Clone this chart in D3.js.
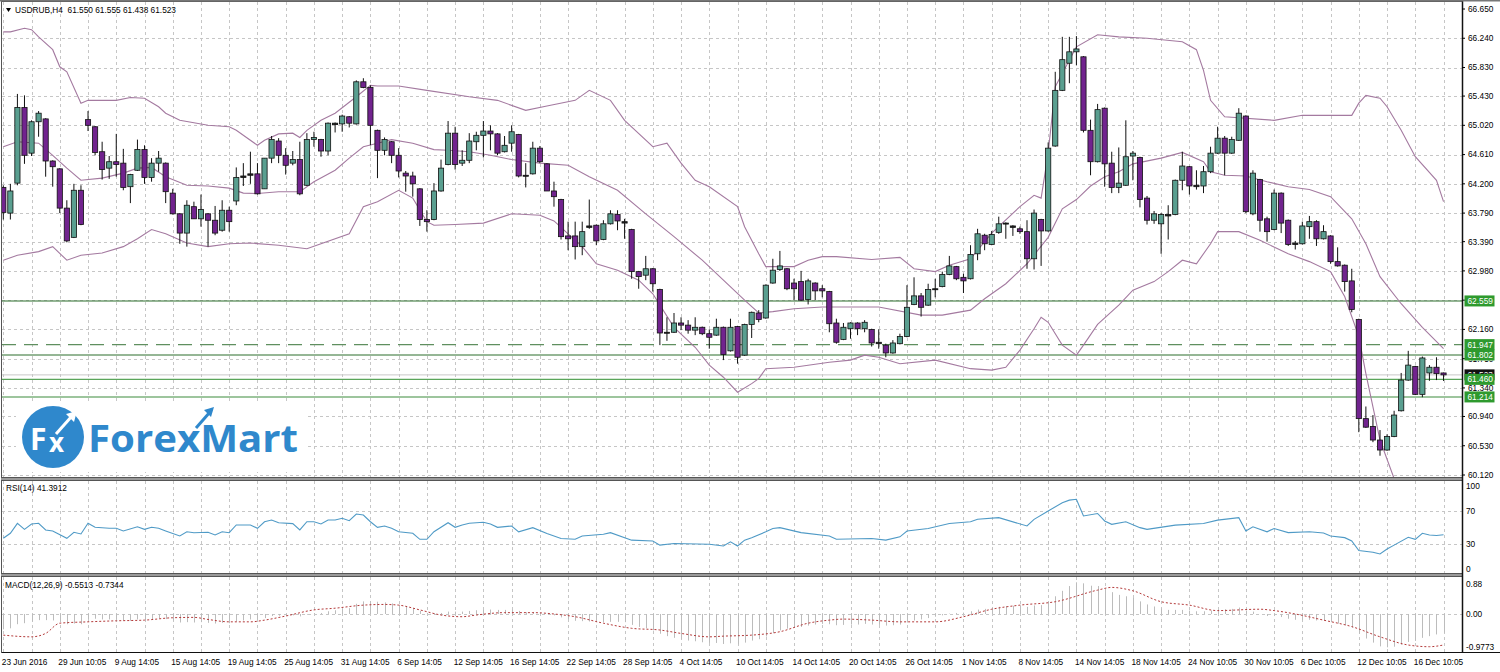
<!DOCTYPE html>
<html><head><meta charset="utf-8">
<script src="https://cdn.jsdelivr.net/npm/d3@7"></script>
<style>body{margin:0;background:#fff;} svg{display:block;font-family:"Liberation Sans",Arial,sans-serif;}</style>
</head><body><svg id="c" width="1500" height="672"></svg>
<script>
// ---------- DATA ----------
const opens=[64.15,63.79,64.21,65.27,64.63,65.07,65.11,64.52,64.41,63.86,
63.45,64.11,65.10,65.00,64.65,64.42,64.51,64.49,64.16,64.39,
64.68,64.29,64.49,64.49,64.07,63.78,63.51,63.88,63.71,63.78,
63.69,63.55,63.83,63.96,64.29,64.32,64.34,64.13,64.56,64.80,
64.60,64.49,64.54,64.18,64.82,64.82,64.66,65.05,65.04,65.14,
65.04,65.63,65.55,64.95,64.67,64.79,64.60,64.35,64.31,64.13,
63.70,63.70,64.10,64.47,64.91,64.49,64.53,64.79,64.88,64.94,
64.90,64.65,64.77,64.89,64.32,64.34,64.70,64.48,64.10,63.98,
63.47,63.47,63.32,63.59,63.62,63.42,63.64,63.77,63.67,63.56,
62.97,62.92,63.01,62.72,62.12,62.12,62.25,62.22,62.15,62.19,
62.10,62.08,62.19,61.86,62.20,61.80,62.23,62.39,62.32,62.81,
63.00,63.01,62.81,62.83,62.58,62.81,62.73,62.69,62.25,62.02,
62.17,62.25,62.17,62.16,61.98,61.94,61.83,61.96,62.06,62.51,
62.63,62.50,62.72,62.76,62.93,63.04,62.89,62.87,63.22,63.48,
63.35,63.52,63.64,63.61,63.57,63.53,63.15,63.70,63.54,64.73,
65.51,65.89,66.05,65.98,64.95,64.51,65.26,64.49,64.15,64.18,
64.59,64.57,64.00,63.69,63.64,63.75,63.77,64.25,64.44,64.18,
64.17,64.37,64.63,64.84,64.63,64.81,65.15,63.78,64.26,63.71,
63.56,64.07,63.69,63.37,63.36,63.60,63.67,63.43,63.47,63.11,
63.06,62.84,62.30,60.91,60.80,60.61,60.47,60.66,61.02,61.45,
61.64,61.25,61.55,61.63,61.550];
const highs=[64.18,64.20,65.46,65.44,65.09,65.22,65.12,64.53,64.42,63.97,
64.20,64.18,65.22,65.01,64.79,64.59,64.90,64.69,64.34,64.82,
64.74,64.56,64.66,64.50,64.13,63.79,63.97,63.95,64.05,63.79,
63.89,63.97,63.88,64.43,64.49,64.65,64.49,64.56,64.87,64.84,
64.70,64.66,64.79,64.91,64.93,64.83,65.06,65.06,65.17,65.15,
65.65,65.68,65.58,64.96,64.85,64.80,64.70,64.38,64.37,64.14,
63.83,64.21,64.54,65.08,65.00,64.67,64.91,64.93,65.08,65.02,
64.91,64.87,65.02,64.90,64.49,64.79,64.73,64.49,64.23,63.99,
63.67,63.67,63.67,63.98,63.63,63.69,63.83,63.83,63.71,63.57,
62.98,63.19,63.02,62.73,62.33,62.39,62.33,62.29,62.33,62.20,
62.16,62.31,62.20,62.31,62.21,62.24,62.41,62.43,62.79,63.15,
63.26,63.02,62.87,62.98,62.87,62.82,62.78,62.70,62.31,62.25,
62.26,62.26,62.29,62.17,62.16,61.96,62.01,62.10,62.78,62.89,
62.67,62.80,62.87,62.97,63.19,63.05,62.94,63.34,63.57,63.50,
63.54,63.74,63.66,63.62,63.60,63.69,63.84,63.71,64.78,65.77,
66.26,66.26,66.27,65.99,65.10,65.32,65.27,64.65,64.71,65.09,
64.66,64.58,64.03,63.82,63.79,63.90,64.26,64.65,64.45,64.39,
64.45,64.72,65.00,64.87,64.86,65.26,65.16,64.39,64.27,63.74,
64.12,64.08,63.70,63.40,63.67,63.75,63.69,63.62,63.48,63.31,
63.07,63.01,62.31,61.08,60.96,60.75,60.69,61.02,61.55,61.86,
61.65,61.78,61.66,61.77,61.555];
const lows=[63.70,63.70,64.18,64.48,64.59,64.86,64.30,64.16,63.79,63.38,
63.44,63.62,64.94,64.60,64.26,64.27,64.30,64.11,63.93,64.38,
64.20,64.23,64.37,63.93,63.77,63.36,63.32,63.71,63.60,63.32,
63.48,63.53,63.53,63.90,64.17,64.20,64.05,64.13,64.49,64.49,
64.33,64.46,64.04,64.17,64.72,64.58,64.60,64.92,64.93,64.99,
65.03,65.54,64.74,64.28,64.60,64.49,64.29,64.09,64.02,63.61,
63.53,63.69,64.09,64.46,64.40,64.45,64.49,64.67,64.57,64.67,
64.60,64.64,64.65,64.29,64.15,64.33,64.49,64.10,63.88,63.42,
63.27,63.14,63.20,63.57,63.34,63.41,63.63,63.55,63.43,62.87,
62.73,62.85,62.69,61.94,62.00,62.11,62.15,62.10,62.08,62.08,
61.89,62.07,61.73,61.85,61.68,61.79,62.04,62.26,62.31,62.80,
62.98,62.71,62.57,62.56,62.51,62.57,62.61,62.12,61.96,62.01,
62.03,62.08,62.12,61.92,61.89,61.77,61.82,61.95,62.05,62.50,
62.34,62.49,62.61,62.75,62.92,62.85,62.67,62.86,63.13,63.27,
63.34,63.50,63.43,63.47,63.50,63.01,63.00,63.05,63.53,64.72,
65.50,65.61,65.86,64.92,64.32,64.50,64.16,64.07,64.07,64.17,
64.25,63.87,63.63,63.64,63.22,63.42,63.76,64.11,64.05,64.12,
64.07,64.35,64.62,64.32,64.62,64.80,63.79,63.76,63.53,63.39,
63.55,63.51,63.33,63.28,63.35,63.43,63.33,63.42,63.08,63.04,
62.69,62.40,60.72,60.78,60.58,60.39,60.46,60.65,61.01,61.44,
61.24,61.21,61.44,61.45,61.438];
const closes=[63.80,64.10,65.27,64.60,65.07,65.19,64.52,64.44,63.86,63.40,
64.11,63.63,65.02,64.64,64.40,64.51,64.47,64.15,64.33,64.68,
64.29,64.49,64.56,64.09,63.78,63.51,63.90,63.71,63.84,63.69,
63.51,63.83,63.67,64.29,64.31,64.34,64.06,64.56,64.82,64.60,
64.46,64.54,64.06,64.82,64.85,64.66,65.05,65.03,65.15,65.05,
65.63,65.55,65.02,64.67,64.82,64.60,64.38,64.31,64.20,63.70,
63.67,64.10,64.42,64.91,64.47,64.53,64.80,64.88,64.94,64.90,
64.63,64.74,64.93,64.31,64.31,64.70,64.51,64.10,64.02,63.46,
63.43,63.32,63.53,63.61,63.40,63.64,63.78,63.68,63.65,62.97,
62.90,63.01,62.80,62.11,62.11,62.25,62.22,62.15,62.19,62.10,
62.05,62.19,61.81,62.19,61.77,62.23,62.40,62.30,62.78,62.99,
63.05,62.73,62.73,62.57,62.84,62.70,62.70,62.24,61.98,62.19,
62.25,62.17,62.26,61.97,61.96,61.83,61.97,62.06,62.47,62.63,
62.47,62.72,62.73,62.93,63.05,62.87,62.84,63.21,63.50,63.36,
63.49,63.64,63.65,63.59,63.53,63.15,63.79,63.54,64.70,65.51,
65.94,66.05,66.09,64.95,64.51,65.24,64.48,64.15,64.21,64.58,
64.63,63.98,63.69,63.78,63.77,63.77,64.25,64.45,64.17,64.16,
64.37,64.63,64.84,64.63,64.82,65.19,63.81,64.35,63.69,63.53,
64.07,63.65,63.35,63.35,63.61,63.67,63.43,63.53,63.11,63.05,
62.83,62.44,60.91,60.79,60.61,60.47,60.66,60.96,61.45,61.66,
61.25,61.76,61.63,61.54,61.523];

// Bollinger bands (candle index, price)
const upperBand=[[0,66.33],[1,66.33],[3,66.38],[4,66.36],[5,66.26],[7,66.08],[8,65.84],[9,65.77],[11,65.33],[12,65.37],[16,65.37],[18,65.41],[20,65.40],[22,65.28],[23,65.19],[25,65.09],[29,65.02],[32,65.00],[33,64.95],[36,64.74],[37,64.81],[39,64.90],[41,64.91],[42,64.85],[43,64.95],[45,65.09],[47,65.19],[50,65.42],[52,65.58],[53,65.57],[56,65.57],[60,65.51],[66,65.42],[70,65.37],[74,65.23],[77,65.29],[81,65.37],[83,65.51],[86,65.37],[88,65.09],[92,64.72],[94,64.77],[96,64.49],[98,64.25],[100,64.16],[104,63.88],[105,63.60],[107,63.22],[108,63.04],[112,63.04],[114,63.13],[116,63.18],[118,63.18],[123,63.14],[127,63.17],[129,63.01],[132,62.97],[134,63.06],[137,63.15],[140,63.51],[144,63.88],[146,64.04],[147,64.00],[148,64.63],[149,65.56],[152,66.12],[155,66.29],[158,66.26],[162,66.24],[167,66.19],[169,66.08],[170,65.79],[171,65.37],[173,65.14],[180,65.09],[184,65.16],[191,65.16],[192,65.33],[193,65.44],[195,65.40],[196,65.28],[198,64.95],[200,64.58],[203,64.25],[204,63.95]];
const middleBand=[[0,64.72],[2,64.79],[5,64.77],[7,64.60],[9,64.42],[11,64.25],[14,64.28],[17,64.35],[19,64.42],[21,64.43],[23,64.30],[26,64.18],[29,64.17],[32,64.14],[34,64.07],[36,64.065],[39,64.09],[42,64.09],[44,64.23],[47,64.39],[49,64.56],[51,64.72],[53,64.77],[55,64.82],[58,64.77],[61,64.68],[63,64.67],[66,64.65],[69,64.60],[72,64.54],[76,64.49],[80,64.46],[83,64.30],[87,64.11],[91,63.78],[95,63.46],[99,63.13],[102,62.85],[105,62.57],[107,62.39],[109,62.41],[112,62.45],[116,62.475],[120,62.475],[124,62.475],[130,62.36],[133,62.36],[137,62.43],[139,62.59],[142,62.80],[145,63.08],[148,63.45],[150,63.85],[152,63.98],[154,64.17],[156,64.30],[158,64.37],[160,64.48],[164,64.56],[167,64.64],[170,64.51],[171,64.37],[173,64.32],[176,64.31],[179,64.23],[182,64.16],[185,64.12],[188,64.02],[191,63.71],[193,63.36],[195,62.90],[198,62.52],[201,62.19],[204,61.89]];
const lowerBand=[[0,63.13],[2,63.20],[5,63.25],[7,63.32],[9,63.13],[11,63.20],[14,63.23],[17,63.32],[19,63.43],[21,63.56],[23,63.50],[26,63.37],[29,63.32],[32,63.36],[35,63.37],[39,63.34],[43,63.29],[45,63.36],[49,63.50],[51,63.88],[53,63.95],[56,64.11],[58,64.00],[60,63.67],[61,63.62],[64,63.63],[68,63.65],[72,63.78],[76,63.76],[78,63.68],[80,63.50],[82,63.32],[84,63.08],[87,62.99],[90,62.85],[92,62.66],[95,62.19],[98,61.91],[100,61.66],[102,61.49],[104,61.28],[106,61.40],[107,61.47],[108,61.61],[112,61.63],[117,61.70],[120,61.73],[122,61.80],[124,61.77],[127,61.68],[132,61.73],[137,61.61],[140,61.59],[142,61.63],[144,61.87],[146,62.17],[147,62.33],[148,62.26],[150,61.94],[152,61.80],[153,61.94],[155,62.23],[158,62.50],[160,62.71],[163,62.83],[165,62.97],[167,63.13],[169,63.08],[171,63.36],[172,63.53],[175,63.53],[178,63.41],[182,63.22],[185,63.11],[188,62.97],[190,62.62],[192,62.06],[193,61.54],[195,60.61],[197,60.07],[199,59.76],[204,59.55]];

// RSI(14) (candle index, value)
const rsi=[[0,37.2],[1,43.2],[2,55.2],[3,48.0],[4,54.4],[5,55.2],[6,47.2],[7,46.0],[9,37.2],[10,44.4],[11,42.4],[12,55.2],[13,50.4],[15,49.2],[16,49.2],[17,46.0],[19,51.1],[20,48.0],[21,50.4],[22,49.2],[23,46.0],[25,40.0],[26,45.1],[27,43.9],[29,44.4],[30,41.2],[31,45.1],[32,43.9],[33,53.2],[35,53.2],[36,49.2],[37,57.1],[38,59.2],[39,55.9],[41,54.8],[42,47.2],[43,57.1],[44,57.1],[45,54.4],[46,59.2],[47,59.2],[48,61.2],[49,58.3],[50,66.4],[51,65.2],[52,57.1],[53,50.4],[54,52.0],[55,49.2],[56,45.1],[58,43.2],[59,36.0],[60,36.0],[61,45.1],[63,55.9],[64,50.4],[65,53.2],[66,55.2],[68,56.4],[69,54.4],[70,50.4],[72,52],[73,45],[75,50],[77,43],[79,37],[81,36],[82,40],[85,42],[86,44],[89,35],[92,34],[93,29],[95,31],[100,30],[102,28],[103,33],[104,28],[105,35],[106,38],[108,45],[109,49],[110,50],[113,44],[117,40],[118,36],[123,37],[125,35],[127,39],[128,46],[131,49],[134,55],[137,57],[138,60],[141,62],[145,52],[146,60],[148,70],[150,80],[151,83],[152,84],[153,64],[155,67],[156,58],[157,54],[159,57],[161,50],[162,48],[166,53],[170,55],[172,59],[175,62],[176,46],[177,51],[179,45],[180,49],[182,44],[185,45.1],[187,43.5],[188,40],[190,38],[191,34],[192,22.5],[194,20.5],[195,18.4],[196,24.3],[197,29],[199,38.4],[200,36],[201,43.2],[202,41.2],[203,40.6],[204,41.4]];

// MACD(12,26,9): main (histogram, one per candle) and signal (index, value)
const macdMain=[-0.45,-0.42,-0.30,-0.27,-0.22,-0.18,-0.18,-0.19,-0.24,-0.30,
-0.28,-0.30,-0.15,-0.14,-0.16,-0.16,-0.16,-0.19,-0.20,-0.16,
-0.17,-0.15,-0.13,-0.15,-0.19,-0.25,-0.24,-0.25,-0.24,-0.26,
-0.28,-0.26,-0.27,-0.22,-0.19,-0.16,-0.17,-0.12,-0.06,-0.05,
-0.05,-0.04,-0.07,-0.02,0.02,0.03,0.08,0.11,0.14,0.17,
0.30,0.37,0.38,0.36,0.34,0.31,0.27,0.22,0.17,0.09,
0.03,0.02,0.03,0.07,0.07,0.07,0.09,0.11,0.12,0.13,
0.12,0.12,0.13,0.09,0.05,0.06,0.04,0.00,-0.04,-0.10,
-0.15,-0.20,-0.21,-0.22,-0.24,-0.24,-0.23,-0.23,-0.24,-0.32,
-0.38,-0.42,-0.48,-0.58,-0.65,-0.70,-0.74,-0.78,-0.80,-0.83,
-0.85,-0.85,-0.88,-0.86,-0.89,-0.84,-0.78,-0.74,-0.66,-0.56,
-0.48,-0.43,-0.40,-0.38,-0.34,-0.31,-0.29,-0.30,-0.33,-0.32,
-0.31,-0.31,-0.29,-0.31,-0.32,-0.34,-0.33,-0.31,-0.25,-0.19,
-0.16,-0.12,-0.08,-0.04,0.01,0.03,0.04,0.08,0.13,0.15,
0.18,0.21,0.23,0.24,0.25,0.21,0.25,0.26,0.37,0.52,
0.68,0.82,0.93,0.90,0.83,0.82,0.74,0.64,0.56,0.52,
0.47,0.37,0.28,0.22,0.16,0.12,0.12,0.12,0.10,0.08,
0.08,0.10,0.13,0.14,0.15,0.19,0.10,0.07,0.00,-0.06,
-0.06,-0.09,-0.14,-0.17,-0.18,-0.17,-0.19,-0.20,-0.24,-0.28,
-0.33,-0.40,-0.58,-0.72,-0.84,-0.95,-0.977,-0.96,-0.90,-0.82,
-0.79,-0.70,-0.65,-0.60,-0.55];
const macdSignal=[[0,-0.62],[4,-0.67],[6,-0.57],[8,-0.27],[12,-0.23],[16,-0.20],[20,-0.18],[24,-0.11],[27,-0.10],[29,-0.16],[32,-0.23],[35,-0.23],[37,-0.18],[40,-0.06],[44,0.12],[47,0.17],[51,0.26],[54,0.28],[56,0.26],[59,0.12],[62,-0.03],[65,-0.08],[67,-0.03],[71,0.04],[75,0.04],[78,0.00],[81,-0.08],[85,-0.27],[89,-0.42],[93,-0.47],[96,-0.57],[100,-0.67],[102,-0.65],[106,-0.62],[110,-0.52],[114,-0.27],[117,-0.18],[119,-0.15],[123,-0.18],[127,-0.23],[132,-0.23],[136,-0.08],[140,0.14],[144,0.26],[149,0.36],[155,0.70],[157,0.78],[160,0.68],[164,0.36],[168,0.26],[172,0.10],[178,0.14],[180,0.10],[183,0.00],[187,-0.18],[191,-0.37],[195,-0.67],[199,-0.91],[202,-0.96],[204,-0.91]];

const priceTicks=[66.650,66.240,65.830,65.430,65.020,64.610,64.200,63.790,63.390,62.980,62.570,62.160,61.750,61.340,60.940,60.530,60.120];
const levelLines=[62.559,61.947,61.802,61.460,61.214];
const bidPrice=61.523;
const rsiTicks=[100,70,30,0];
const macdTicks=[0.88,0.00,-0.9773];
const dateLabels=["23 Jun 2016","29 Jun 10:05","9 Aug 14:05","15 Aug 14:05","19 Aug 14:05","25 Aug 14:05","31 Aug 14:05","6 Sep 14:05","12 Sep 14:05","16 Sep 14:05","22 Sep 14:05","28 Sep 14:05","4 Oct 14:05","10 Oct 14:05","14 Oct 14:05","20 Oct 14:05","26 Oct 14:05","1 Nov 14:05","8 Nov 14:05","14 Nov 14:05","18 Nov 14:05","24 Nov 10:05","30 Nov 10:05","6 Dec 10:05","12 Dec 10:05","16 Dec 10:05"];

// ---------- DRAW ----------
const svg=d3.select('#c');
const FONT='"Liberation Sans",Arial,sans-serif';
const L=2, R=1462;
const MAIN=[2,477], RSIP=[481,573], MACDP=[577,652];
const n=opens.length;
const x=d3.scaleLinear().domain([0,n-1]).range([3.3,3.3+(n-1)*7.06]);
const y=d3.scaleLinear().domain([60.12,66.65]).range([475,9]);
const yR=d3.scaleLinear().domain([0,100]).range([569.3,486]);
const yM=d3.scaleLinear().domain([-0.9773,0.88]).range([647.3,584]);
const bull='#5a9f90', bear='#71238e';

svg.append('rect').attr('width',1500).attr('height',672).attr('fill','#fff');
const defs=svg.append('defs');
[['cm',MAIN],['cr',RSIP],['cx',MACDP]].forEach(([id,p])=>{
  defs.append('clipPath').attr('id',id).append('rect').attr('x',L).attr('y',p[0]).attr('width',R-L).attr('height',p[1]-p[0]);
});

// vertical grid
const gridIdx=d3.range(0,n,4);
[MAIN,RSIP,MACDP].forEach(p=>{
  svg.append('g').selectAll('line').data(gridIdx).join('line')
    .attr('x1',d=>Math.round(x(d))+0.5).attr('x2',d=>Math.round(x(d))+0.5)
    .attr('y1',p[0]).attr('y2',p[1])
    .attr('stroke','#c6c6c6').attr('stroke-dasharray','3,3');
});
// horizontal grid main
svg.append('g').selectAll('line').data(priceTicks.slice(1)).join('line')
  .attr('x1',L).attr('x2',R).attr('y1',d=>Math.round(y(d))+0.5).attr('y2',d=>Math.round(y(d))+0.5)
  .attr('stroke','#c6c6c6').attr('stroke-dasharray','3,3');
// RSI levels
svg.append('g').selectAll('line').data([70,30]).join('line')
  .attr('x1',L).attr('x2',R).attr('y1',d=>Math.round(yR(d))+0.5).attr('y2',d=>Math.round(yR(d))+0.5)
  .attr('stroke','#c6c6c6').attr('stroke-dasharray','3,3');
// MACD zero
svg.append('line').attr('x1',L).attr('x2',R).attr('y1',Math.round(yM(0))+0.5).attr('y2',Math.round(yM(0))+0.5)
  .attr('stroke','#c6c6c6').attr('stroke-dasharray','3,3');

// level lines
const gm=svg.append('g').attr('clip-path','url(#cm)');
const lvlStyle={62.559:['#2d6e2d',null],61.947:['#5f8f5f','14,8'],61.802:['#2d6e2d',null],61.460:['#5aa55a',null],61.214:['#3c8c3c',null]};
gm.append('line').attr('x1',L).attr('x2',R).attr('y1',y(bidPrice)).attr('y2',y(bidPrice)).attr('stroke','#c8c8c8');
levelLines.forEach(v=>{
  gm.append('line').attr('x1',L).attr('x2',R).attr('y1',y(v)).attr('y2',y(v))
    .attr('stroke',lvlStyle[v][0]).attr('stroke-width',1.1).attr('stroke-dasharray',lvlStyle[v][1]);
});

// bands
const bandLine=d3.line().x(d=>x(d[0])).y(d=>y(d[1]));
[upperBand,middleBand,lowerBand].forEach(b=>{
  gm.append('path').attr('d',bandLine(b)).attr('fill','none').attr('stroke','#a47aa0').attr('stroke-width',1.1);
});

// candles
const idx=d3.range(n);
gm.append('g').selectAll('line').data(idx).join('line')
  .attr('x1',i=>x(i)).attr('x2',i=>x(i)).attr('y1',i=>y(highs[i])).attr('y2',i=>y(lows[i]))
  .attr('stroke','#111').attr('stroke-width',1);
gm.append('g').selectAll('rect').data(idx).join('rect')
  .attr('x',i=>x(i)-2.6).attr('width',5.2)
  .attr('y',i=>y(Math.max(opens[i],closes[i])))
  .attr('height',i=>Math.max(1,Math.abs(y(opens[i])-y(closes[i]))))
  .attr('fill',i=>Math.abs(y(opens[i])-y(closes[i]))<1.5?'#222':(closes[i]>=opens[i]?bull:bear))
  .attr('stroke','#111').attr('stroke-width',0.8);

// logo
const logo=svg.append('g');
logo.append('rect').attr('x',16).attr('y',404).attr('width',292).attr('height',68).attr('fill','#fff');
logo.append('circle').attr('cx',53).attr('cy',437).attr('r',31).attr('fill','#2f88cc');
logo.append('text').attr('x',30).attr('y',450).attr('fill','#fff').attr('font-family','"Open Sans",sans-serif').attr('font-weight',700).attr('font-size',30).text('F');
logo.append('text').attr('x',49).attr('y',452).attr('fill','#fff').attr('font-family','"Open Sans",sans-serif').attr('font-weight',700).attr('font-size',26).text('x');
logo.append('path').attr('d','M56,434 L72,416').attr('stroke','#fff').attr('stroke-width',3);
logo.append('path').attr('d','M66,414 L77,411 L74,422 Z').attr('fill','#fff');
logo.append('text').attr('x',88).attr('y',452).attr('fill','#2f88cc').attr('font-family','"Open Sans",sans-serif').attr('font-weight',700).attr('font-size',37).attr('textLength',210).attr('lengthAdjust','spacingAndGlyphs').text('ForexMart');
logo.append('path').attr('d','M196,428 L210,412').attr('stroke','#2f88cc').attr('stroke-width',3);
logo.append('path').attr('d','M204,410 L214,407 L211,417 Z').attr('fill','#2f88cc');

// RSI
const gr=svg.append('g').attr('clip-path','url(#cr)');
gr.append('path').attr('d',d3.line().x(d=>x(d[0])).y(d=>yR(d[1]))(rsi)).attr('fill','none').attr('stroke','#4f9ac6').attr('stroke-width',1.1);

// MACD
const gx=svg.append('g').attr('clip-path','url(#cx)');
gx.append('g').selectAll('line').data(idx).join('line')
  .attr('x1',i=>Math.round(x(i))+0.5).attr('x2',i=>Math.round(x(i))+0.5).attr('y1',yM(0)).attr('y2',i=>yM(macdMain[i]))
  .attr('stroke','#bcbcbc').attr('stroke-width',1);
gx.append('path').attr('d',d3.line().x(d=>x(d[0])).y(d=>yM(d[1])).curve(d3.curveMonotoneX)(macdSignal))
  .attr('fill','none').attr('stroke','#b43a3a').attr('stroke-width',1).attr('stroke-dasharray','2,2');

// headers
svg.append('path').attr('d','M6,8 L11,8 L8.5,12 Z').attr('fill','#000');
svg.append('text').attr('x',15).attr('y',13).attr('font-size',8.3).attr('fill','#000').attr('font-family',FONT)
  .text('USDRUB,H4  61.550 61.555 61.438 61.523').attr('xml:space','preserve').style('white-space','pre');
svg.append('text').attr('x',6).attr('y',491).attr('font-size',8.3).attr('fill','#000').attr('font-family',FONT).text('RSI(14) 41.3912');
svg.append('text').attr('x',5).attr('y',588).attr('font-size',8.3).attr('fill','#000').attr('font-family',FONT).text('MACD(12,26,9) -0.5513 -0.7344');

// frames and separators
[MAIN,RSIP,MACDP].forEach(p=>{
  svg.append('rect').attr('x',L-0.5).attr('y',p[0]-0.5).attr('width',R-L+1).attr('height',p[1]-p[0]+1)
    .attr('fill','none').attr('stroke','#555').attr('stroke-width',1);
});
[[477.5,480.5],[573.5,576.5]].forEach(s=>{
  svg.append('rect').attr('x',L-1).attr('y',s[0]).attr('width',R-L+2).attr('height',s[1]-s[0]).attr('fill','#9a9a9a');
  svg.append('line').attr('x1',L-1).attr('x2',R+1).attr('y1',s[0]).attr('y2',s[0]).attr('stroke','#555');
  svg.append('line').attr('x1',L-1).attr('x2',R+1).attr('y1',s[1]).attr('y2',s[1]).attr('stroke','#555');
});
svg.append('line').attr('x1',R+0.5).attr('x2',R+0.5).attr('y1',0).attr('y2',653).attr('stroke','#111').attr('stroke-width',1.5);
svg.append('line').attr('x1',0).attr('x2',1500).attr('y1',0.8).attr('y2',0.8).attr('stroke','#777').attr('stroke-width',1.6);
svg.append('line').attr('x1',L).attr('x2',1500).attr('y1',652.5).attr('y2',652.5).attr('stroke','#111');

// right axis labels
const ax=svg.append('g').attr('font-family',FONT).attr('font-size',8.3).attr('fill','#000');
// labels partly covered by the level boxes are clipped to their visible part
defs.append('clipPath').attr('id','c1750').append('rect').attr('x',1463).attr('y',y(61.802)+5.5).attr('width',37).attr('height',6);
defs.append('clipPath').attr('id','cbid').append('rect').attr('x',1463).attr('y',y(bidPrice)-5.5).attr('width',37).attr('height',y(61.460)-5.5-(y(bidPrice)-5.5));
ax.selectAll('text.p').data(priceTicks).join('text').attr('x',1468).attr('y',d=>y(d)).attr('dy','0.35em')
  .attr('clip-path',d=>d===61.750?'url(#c1750)':null).text(d=>d.toFixed(3));
ax.selectAll('line.t').data(priceTicks).join('line').attr('x1',R).attr('x2',R+3).attr('y1',d=>y(d)).attr('y2',d=>y(d)).attr('stroke','#000');
ax.selectAll('text.r').data(rsiTicks).join('text').attr('x',1466).attr('y',d=>yR(d)).attr('dy','0.35em').text(d=>d);
ax.selectAll('text.m').data(macdTicks).join('text').attr('x',1466).attr('y',d=>yM(d)).attr('dy','0.35em').text(d=>d===0?'0.00':(d===0.88?'0.88':String(d)));
// bid box then level boxes
function box(v,fill,clip){
  ax.append('rect').attr('x',1464.5).attr('y',y(v)-5.5).attr('width',30).attr('height',11).attr('fill',fill);
  ax.append('text').attr('x',1467.5).attr('y',y(v)).attr('dy','0.35em').attr('fill','#fff').attr('clip-path',clip||null).text(v.toFixed(3));
}
box(bidPrice,'#111','url(#cbid)');
levelLines.forEach(v=>box(v,'#2e9a2e'));

// x labels
svg.append('g').attr('font-family',FONT).attr('font-size',8.3).attr('fill','#000')
  .selectAll('text').data(dateLabels).join('text')
  .attr('x',(d,i)=>x(i*8)-1.5).attr('y',665).text(d=>d);
</script></body></html>
